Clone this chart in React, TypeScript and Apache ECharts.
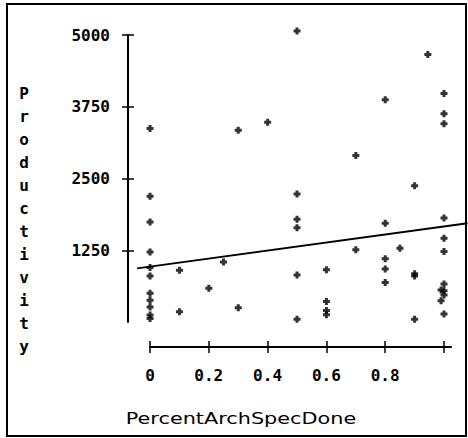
import React, { useEffect, useRef } from "react";
import * as echarts from "echarts";

// Percent of architecture spec done (x) vs productivity (y)
const percentDone: number[] = [
  0, 0, 0, 0, 0, 0, 0, 0, 0, 0, 0,
  0.1, 0.1,
  0.2,
  0.25,
  0.3, 0.3,
  0.4,
  0.5, 0.5, 0.5, 0.5, 0.5, 0.5,
  0.6, 0.6, 0.6, 0.6,
  0.7, 0.7,
  0.8, 0.8, 0.8, 0.8, 0.8,
  0.85,
  0.9, 0.9, 0.9, 0.9,
  0.945,
  1, 1, 1, 1, 1, 1, 1, 0.99, 1, 1, 0.99, 1,
];
const productivity: number[] = [
  3370, 2190, 1740, 1220, 950, 800, 500, 380, 260, 120, 60,
  900, 180,
  590,
  1045,
  3340, 250,
  3480,
  5070, 2230, 1790, 1640, 820, 50,
  910, 355, 200, 125,
  2900, 1260,
  3870, 1720, 1100, 925, 690,
  1285,
  2375, 840, 800, 50,
  4660,
  3980, 3630, 3455, 1810, 1460, 1230, 660, 557, 545, 470, 371, 140,
];

const yTicks: number[] = [1250, 2500, 3750, 5000];
const xTicks: number[] = [0, 0.2, 0.4, 0.6, 0.8, 1];
const xLabels: number[] = [0, 0.2, 0.4, 0.6, 0.8];

// fitted regression line
const fitIntercept = 965;
const fitSlope = 700;
const fitRange: number[] = [-0.044, 1.08];

const xTitle = "PercentArchSpecDone";
const yTitle = "Productivity";

export default function App() {
  const ref = useRef<HTMLDivElement>(null);
  useEffect(() => {
    if (!ref.current) return;
    const chart = echarts.init(ref.current, null, { renderer: "svg" });
    const points = percentDone.map((x, i) => [x, productivity[i]]);
    const fitLine = fitRange.map((x) => [x, fitIntercept + fitSlope * x]);
    const tickFont = {
      color: "#000",
      fontFamily: "DejaVu Sans Mono",
      fontWeight: "bold",
      fontSize: 16,
    };
    const axisLineStyle = { color: "#000", width: 2 };
    const tickStyle = { color: "#000", width: 1.5 };
    // grid 0: data plot, y axis line at its left edge
    // grid 1: visible x axis (offset below the plot)
    // grid 2: ends at the y axis line, carries the right-pointing half of the y ticks
    // grid 3: starts at the x axis line, carries the upward half of the x ticks
    const grids = [
      { left: 128, top: 35, width: 340, height: 287 },
      { left: 150, top: 35, width: 301, height: 287 },
      { left: 28, top: 35, width: 100, height: 287 },
      { left: 150, top: 347, width: 301, height: 40 },
    ];
    const xRange = { type: "value", min: 0, max: 1.024, interval: 0.2, splitLine: { show: false } };
    const yRange = { type: "value", min: 0, max: 5000, interval: 1250, splitLine: { show: false } };
    chart.setOption({
      animation: false,
      backgroundColor: "#fff",
      grid: grids,
      xAxis: [
        { type: "value", gridIndex: 0, min: -0.075, max: 1.0816, show: false },
        {
          ...xRange,
          gridIndex: 1,
          offset: 25,
          position: "bottom",
          axisLine: { show: true, onZero: false, lineStyle: axisLineStyle },
          axisTick: { show: true, length: 6, customValues: xTicks, lineStyle: tickStyle },
          axisLabel: {
            ...tickFont,
            margin: 20,
            customValues: xLabels,
            formatter: (v: number) => String(Math.round(v * 10) / 10),
          },
        },
        { type: "value", gridIndex: 2, min: 0, max: 1, show: false },
        {
          ...xRange,
          gridIndex: 3,
          position: "top",
          axisLine: { show: false, onZero: false },
          axisTick: { show: true, length: 6, customValues: xTicks, lineStyle: tickStyle },
          axisLabel: { show: false },
        },
      ],
      yAxis: [
        {
          ...yRange,
          gridIndex: 0,
          position: "left",
          axisLine: { show: true, onZero: false, lineStyle: axisLineStyle },
          axisTick: { show: true, length: 6, customValues: yTicks, lineStyle: tickStyle },
          axisLabel: {
            ...tickFont,
            margin: 18,
            customValues: yTicks,
            formatter: (v: number) => String(v),
          },
        },
        { type: "value", gridIndex: 1, min: 0, max: 5000, show: false },
        {
          ...yRange,
          gridIndex: 2,
          position: "right",
          axisLine: { show: false, onZero: false },
          axisTick: { show: true, length: 6, customValues: yTicks, lineStyle: tickStyle },
          axisLabel: { show: false },
        },
        { type: "value", gridIndex: 3, min: 0, max: 1, show: false },
      ],
      series: [
        {
          type: "scatter",
          xAxisIndex: 0,
          yAxisIndex: 0,
          data: points,
          clip: false,
          symbol: "path://M2 0h3v2h2v3h-2v2h-3v-2h-2v-3h2z",
          symbolSize: 7,
          itemStyle: { color: "#000" },
          silent: true,
        },
        {
          type: "line",
          xAxisIndex: 0,
          yAxisIndex: 0,
          data: fitLine,
          showSymbol: false,
          clip: false,
          lineStyle: { color: "#000", width: 2 },
          silent: true,
        },
      ],
      graphic: [
        {
          type: "rect",
          shape: { x: 7, y: 4, width: 459, height: 432 },
          style: { fill: "none", stroke: "#000", lineWidth: 2 },
          silent: true,
        },
        {
          type: "text",
          x: 24,
          y: 82,
          style: {
            text: yTitle.split("").join("\n"),
            fontFamily: "DejaVu Sans Mono",
            fontWeight: "bold",
            fontSize: 16,
            lineHeight: 23,
            fill: "#000",
            align: "center",
            verticalAlign: "top",
          },
        },
        {
          type: "text",
          x: 241,
          y: 418,
          scaleX: 1.3,
          style: {
            text: xTitle,
            fontFamily: "DejaVu Sans",
            fontSize: 16,
            fill: "#000",
            align: "center",
            verticalAlign: "middle",
          },
        },
      ],
    });
    return () => chart.dispose();
  }, []);
  return (
    <div
      ref={ref}
      style={{ position: "absolute", left: 0, top: 0, width: 468, height: 438 }}
    />
  );
}
